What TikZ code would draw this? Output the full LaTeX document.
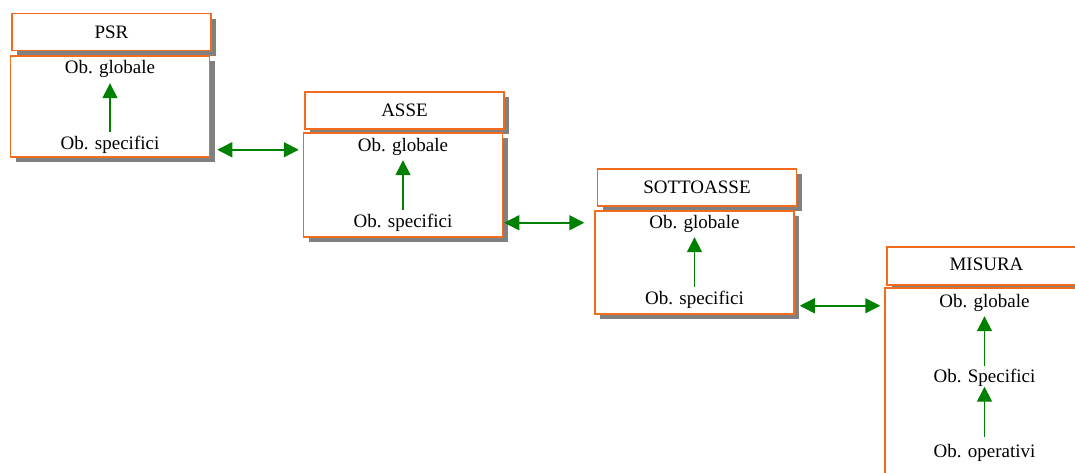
\documentclass[tikz,border=0pt]{standalone}
\usepackage{fontspec}
\setmainfont{Liberation Serif}
\usetikzlibrary{arrows.meta,shadows}
\definecolor{boxorange}{RGB}{242,108,30}
\definecolor{arrgreen}{RGB}{0,128,0}
\definecolor{shadowgray}{RGB}{128,128,128}
\begin{document}
\begin{tikzpicture}[x=1pt,y=-1pt,
  shadowed/.style={drop shadow={shadow xshift=5pt,shadow yshift=-5pt,fill=shadowgray,opacity=1}},
  titlebox/.style={draw=boxorange,line width=1.5pt,fill=white,minimum width=199pt,minimum height=37pt,inner sep=0pt,shadowed,font=\fontsize{19}{22}\selectfont},
  bodybox/.style={draw=boxorange,line width=1.5pt,fill=white,minimum width=199pt,inner sep=0pt,shadowed},
  lbl/.style={inner sep=0pt,text height=13pt,text depth=4pt,font=\fontsize{19}{22}\selectfont},
  tip/.tip={Triangle[length=15pt,width=15pt]},
  up/.style={draw=arrgreen,line width=1.5pt,-tip},
  dbl/.style={draw=arrgreen,line width=1.5pt,tip-tip}]
\useasboundingbox (0,0) rectangle (1075,472);
\clip (0,0) rectangle (1075,472);
% PSR
\node[titlebox] (psrt) at (111.5,32) {PSR};
\node[bodybox,minimum height=101pt] (psrb) at (110,106.5) {};
\node[lbl] (psrg) at (110,69) {Ob. globale};
\node[lbl] (psrs) at (110,145) {Ob. specifici};
\draw[up,shorten <=4.5pt,shorten >=5.5pt] (psrs.north) -- (psrg.south);
% ASSE
\node[titlebox] (asset) at (404.5,110.5) {ASSE};
\node[bodybox,minimum height=104pt] (asseb) at (403,185) {};
\node[lbl] (asseg) at (403,147) {Ob. globale};
\node[lbl] (asses) at (403,223) {Ob. specifici};
\draw[up,shorten <=4.5pt,shorten >=4.5pt] (asses.north) -- (asseg.south);
% SOTTOASSE
\node[titlebox] (sottot) at (697,187.5) {SOTTOASSE};
\node[bodybox,minimum height=103pt] (sottob) at (694.5,262.5) {};
\node[lbl] (sottog) at (694.5,224) {Ob. globale};
\node[lbl] (sottos) at (694.5,300) {Ob. specifici};
\draw[up,shorten <=4.5pt,shorten >=4.5pt] (sottos.north) -- (sottog.south);
% MISURA
\node[titlebox,minimum height=38pt,minimum width=240pt] (misurat) at (1007,266) {};
\node[lbl,font=\fontsize{19}{22}\selectfont] (misuran) at (986.5,266) {MISURA};
\node[bodybox,minimum height=220pt,minimum width=240pt] (misurab) at (1005,398) {};
\node[lbl] (misurag) at (984.5,303) {Ob. globale};
\node[lbl] (misuras) at (984.5,378) {Ob. Specifici};
\node[lbl] (misurao) at (984.5,453) {Ob. operativi};
\draw[up,shorten <=3.5pt,shorten >=4.5pt] (misuras.north) -- (misurag.south);
\draw[up,shorten <=7.5pt,shorten >=0pt] (misurao.north) -- (misuras.south);
% connectors between levels
\coordinate (c1) at ([xshift=7pt,yshift=8pt]psrb.south east);
\draw[dbl] (c1) -- ([xshift=-4pt]c1 -| asseb.west);
\coordinate (c2) at ([xshift=1pt,yshift=15pt]asseb.south east);
\draw[dbl] (c2) -- ([xshift=-10pt]c2 -| sottob.west);
\coordinate (c3) at ([xshift=5pt,yshift=9pt]sottob.south east);
\draw[dbl] (c3) -- ([xshift=-4pt]c3 -| misurab.west);
\end{tikzpicture}
\end{document}
